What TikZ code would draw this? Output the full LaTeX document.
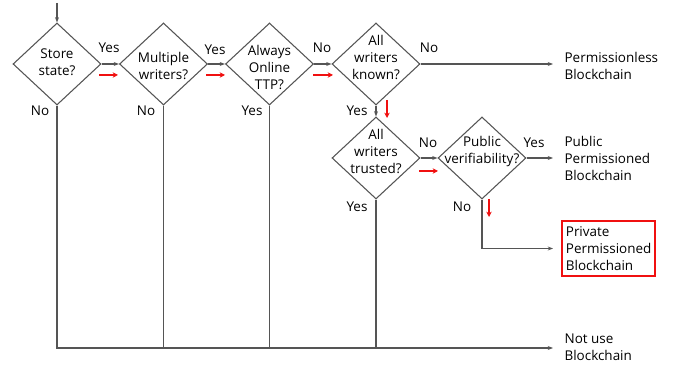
\documentclass[tikz,border=0pt]{standalone}
\usepackage{fontspec}
\setmainfont{Open Sans}
\usetikzlibrary{shapes.geometric,arrows.meta,calc}
\definecolor{linegray}{HTML}{555555}
\definecolor{alertred}{HTML}{F01010}
\begin{document}
\begin{tikzpicture}[x=0.75pt,y=-0.75pt,
  font=\fontsize{10.1}{12.75}\selectfont,
  every node/.style={text=black},
  dia/.style={shape=diamond,draw=linegray,line width=0.8pt,inner sep=0pt,
    minimum width=66pt,minimum height=61.5pt},
  qtext/.style={align=center,inner sep=0pt},
  outcome/.style={anchor=west,align=left,inner xsep=2.5pt,inner ysep=2pt},
  flow/.style={draw=linegray,line width=0.8pt},
  flowarrow/.style={flow,-{Stealth[length=4pt,width=3pt]}},
  hint/.style={draw=alertred,line width=1.5pt,-{Stealth[length=4pt,width=4pt]}},
  ans/.style={inner sep=0pt}]
\useasboundingbox (0,0) rectangle (675,366);

% decision diamonds
\node[dia] (d1) at (57,64) {};
\node[dia] (d2) at (163.5,64) {};
\node[dia] (d3) at (269.5,64) {};
\node[dia] (d4) at (376,64) {};
\node[dia] (d5) at (376,158) {};
\node[dia] (d6) at (482,158) {};

\node[qtext] (t1) at (57,62) {Store\\state?};
\node[qtext] (t2) at (163.5,65.5) {Multiple\\writers?};
\node[qtext] (t3) at (269.5,67) {Always\\Online\\TTP?};
\node[qtext] (t4) at (376,57) {All\\writers\\known?};
\node[qtext] (t5) at (376,151) {All\\writers\\trusted?};
\node[qtext] (t6) at (482,152) {Public\\verifiability?};

% outcomes
\node[outcome] (perm) at (561,65.5) {Permissionless\\Blockchain};
\node[outcome] (pub) at (561,158) {Public\\Permissioned\\Blockchain};
\node[outcome,draw=alertred,line width=1.5pt,inner ysep=4pt,minimum width=70pt] (priv) at (561,248.5) {Private\\Permissioned\\Blockchain};
\node[outcome] (notuse) at (561,347.5) {Not use\\Blockchain};

\coordinate (entry) at (57,3);
\coordinate (bot) at (57,348);

% main flow
\draw[flowarrow] (entry) -- (d1.north);
\draw[flowarrow] (d1.east) -- (d2.west);
\draw[flowarrow] (d2.east) -- (d3.west);
\draw[flowarrow] (d3.east) -- (d4.west);
\draw[flowarrow,shorten >=6pt] (d4.east) -- (d4.east -| perm.west);
\draw[flowarrow] (d4.south) -- (d5.north);
\draw[flowarrow] (d5.east) -- (d6.west);
\draw[flowarrow,shorten >=6pt] (d6.east) -- (d6.east -| pub.west);
\draw[flowarrow,shorten >=6pt] (d6.south) |- (priv.west);

% paths to the bottom outcome
\draw[flow] (d2.south) -- (d2.south |- bot);
\draw[flow] (d3.south) -- (d3.south |- bot);
\draw[flow] (d5.south) -- (d5.south |- bot);
\draw[flowarrow,shorten >=6pt] (d1.south) -- (bot) -- (bot -| notuse.west);

% answer labels
\node[ans] (y1) at (109,48) {Yes};
\node[ans] (n1) at (40,111) {No};
\node[ans] (y2) at (215,50) {Yes};
\node[ans] (n2) at (146,111) {No};
\node[ans] (y3) at (252,111) {Yes};
\node[ans] (n3) at (322,48) {No};
\node[ans] (n4) at (429,48) {No};
\node[ans] (y4) at (357,111) {Yes};
\node[ans] (n5) at (428,143) {No};
\node[ans] (y5) at (357,207) {Yes};
\node[ans] (y6) at (534,143) {Yes};
\node[ans] (n6) at (462,207) {No};

% highlighted route
\draw[hint] (99,75) -- (118,75);
\draw[hint] (206,75) -- (225,75);
\draw[hint] (313,75) -- (333,75);
\draw[hint] (387,100) -- (387,118);
\draw[hint] (419,171) -- (438,171);
\draw[hint] (489,199) -- (489,217);
\end{tikzpicture}
\end{document}
